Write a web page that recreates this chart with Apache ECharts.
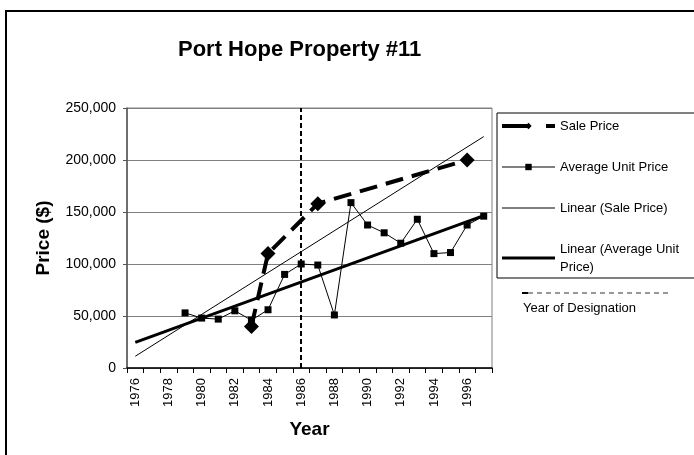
<!DOCTYPE html>
<html><head><meta charset="utf-8">
<script src="https://cdn.jsdelivr.net/npm/echarts@6/dist/echarts.min.js"></script>
<style>html,body{margin:0;padding:0;background:#fff}#c{width:694px;height:455px}</style>
</head><body><div id="c"></div>
<script>
const years = ['1976','1977','1978','1979','1980','1981','1982','1983','1984','1985','1986','1987','1988','1989','1990','1991','1992','1993','1994','1995','1996','1997'];
const salePrice = [null,null,null,null,null,null,null,40000,110000,null,null,158000,null,null,null,null,null,null,null,null,200000,null];
const avgUnitPrice = [null,null,null,53000,48000,47000,55000,46000,56000,90000,100000,99000,51000,159000,137500,130000,120000,143000,110000,111000,137500,146000];
const trendYears = ['1976','1997'];
const trendSale = [11300, 222500];
const trendAvg = [24700, 146500];
const designationYear = '1986';

const FONT = 'Liberation Sans, Arial, sans-serif';
const chart = echarts.init(document.getElementById('c'), null, {renderer: 'canvas'});
chart.setOption({
  animation: false,
  backgroundColor: '#fff',
  title: {
    text: 'Port Hope Property #11', left: 173, top: 34,
    textStyle: {fontFamily: FONT, fontSize: 22, fontWeight: 'bold', color: '#000'}
  },
  grid: {left: 127, right: 202, top: 108, bottom: 87, show: true, borderColor: '#808080', borderWidth: 1, backgroundColor: 'transparent'},
  legend: {
    orient: 'vertical', left: 497, top: 113, width: 400,
    padding: [4, 60, 2, 3],
    borderColor: '#000', borderWidth: 1,
    itemWidth: 53, itemHeight: 8, itemGap: 23,
    data: [
      {name: 'Sale Price', lineStyle: {width: 4, type: [28, 16], cap: 'butt'}},
      {name: 'Average Unit Price', lineStyle: {width: 1}},
      {name: 'Linear (Sale Price)', itemStyle: {opacity: 0}, lineStyle: {width: 1}},
      {name: 'Linear (Average Unit Price)', itemStyle: {opacity: 0}, lineStyle: {width: 3}}
    ],
    formatter: n => n === 'Linear (Average Unit Price)' ? 'Linear (Average Unit\nPrice)' : n,
    textStyle: {fontFamily: FONT, fontSize: 13, color: '#000', lineHeight: 18}
  },
  graphic: [
    {type: 'rect', shape: {x: 6, y: 11, width: 900, height: 700}, style: {fill: 'none', stroke: '#000', lineWidth: 2}, silent: true, z: -1},
    {type: 'line', shape: {x1: 528, y1: 293, x2: 670, y2: 293}, style: {stroke: '#777', lineWidth: 1.5, lineDash: [5, 4]}},
    {type: 'line', shape: {x1: 522, y1: 293, x2: 528, y2: 293}, style: {stroke: '#000', lineWidth: 2}},
    {type: 'text', left: 523, top: 302, style: {text: 'Year of Designation', font: '13px ' + FONT, fill: '#000'}}
  ],
  xAxis: {
    type: 'category', data: years, boundaryGap: true,
    name: 'Year', nameLocation: 'middle', nameGap: 52,
    nameTextStyle: {fontFamily: FONT, fontSize: 19, fontWeight: 'bold', color: '#000'},
    axisLine: {lineStyle: {color: '#000', width: 1.5}},
    axisTick: {show: true, interval: 0, length: 5, lineStyle: {color: '#000'}},
    axisLabel: {interval: 1, rotate: 90, margin: 10, fontFamily: FONT, fontSize: 13, color: '#000'},
    splitLine: {show: false}
  },
  yAxis: {
    type: 'value', min: 0, max: 250000, interval: 50000,
    name: 'Price ($)', nameLocation: 'middle', nameGap: 74, nameRotate: 90,
    nameTextStyle: {fontFamily: FONT, fontSize: 19, fontWeight: 'bold', color: '#000'},
    axisLine: {show: true, lineStyle: {color: '#555', width: 1.5}},
    axisTick: {show: true, length: 4, lineStyle: {color: '#555'}},
    axisLabel: {margin: 11, fontFamily: FONT, fontSize: 14, color: '#000',
      formatter: v => v.toLocaleString('en-US')},
    splitLine: {show: true, lineStyle: {color: '#808080', width: 1}}
  },
  series: [
    {
      name: 'Linear (Sale Price)', type: 'line',
      data: trendYears.map((y, i) => [y, trendSale[i]]),
      symbol: 'none', lineStyle: {color: '#000', width: 1}, itemStyle: {color: '#000'}, z: 2
    },
    {
      name: 'Linear (Average Unit Price)', type: 'line',
      data: trendYears.map((y, i) => [y, trendAvg[i]]),
      symbol: 'none', lineStyle: {color: '#000', width: 3}, itemStyle: {color: '#000'}, z: 2
    },
    {
      name: 'Average Unit Price', type: 'line', data: avgUnitPrice, connectNulls: true,
      symbol: 'rect', symbolSize: 7, showAllSymbol: true,
      lineStyle: {color: '#000', width: 1}, itemStyle: {color: '#000'}, z: 3,
      markLine: {
        silent: true, symbol: ['none', 'none'], label: {show: false},
        lineStyle: {color: '#000', width: 2, type: [5, 3]},
        data: [{xAxis: designationYear}]
      }
    },
    {
      name: 'Sale Price', type: 'line', data: salePrice, connectNulls: true,
      symbol: 'diamond', symbolSize: 15, showAllSymbol: true,
      lineStyle: {color: '#000', width: 4, type: [18, 9]}, itemStyle: {color: '#000'}, z: 4
    }
  ]
});
</script></body></html>
